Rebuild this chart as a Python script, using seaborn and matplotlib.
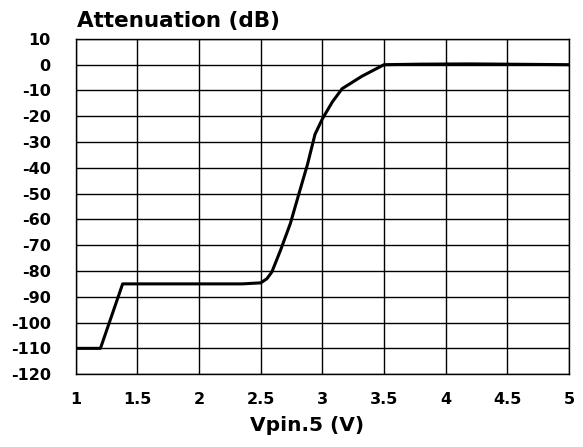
import matplotlib
matplotlib.use("Agg")
import matplotlib.pyplot as plt
import seaborn as sns
import pandas as pd

# Napiecie na pinie 5 i tlumienie
vpin = [1.0, 1.2, 1.38, 2.35, 2.5, 2.55, 2.59, 2.66, 2.74, 2.81, 2.88, 2.94,
        3.0, 3.08, 3.16, 3.32, 3.5, 3.8, 4.2, 5.0]
attenuation = [-110, -110, -85, -85, -84.6, -83, -80.4, -72, -61.6, -50, -38.5, -27,
               -21, -14.5, -9.3, -4.5, 0, 0.2, 0.3, 0]

x_ticks = [1, 1.5, 2, 2.5, 3, 3.5, 4, 4.5, 5]
x_tick_labels = ["1", "1.5", "2", "2.5", "3", "3.5", "4", "4.5", "5"]
y_ticks = list(range(-120, 11, 10))

sns.set_style("white")
plt.rcParams["font.family"] = ["DejaVu Sans"]
plt.rcParams["font.weight"] = "bold"
plt.rcParams["axes.unicode_minus"] = False
for key in ["text.color", "axes.labelcolor", "xtick.color", "ytick.color"]:
    plt.rcParams[key] = "black"

df = pd.DataFrame({"vpin": vpin, "att": attenuation})

fig = plt.figure(figsize=(5.83, 4.47), dpi=100)
ax = fig.add_axes([0.130, 0.163, 0.846, 0.750])

sns.lineplot(data=df, x="vpin", y="att", ax=ax, color="black", linewidth=2.2,
             sort=False)

ax.set_xlim(1, 5)
ax.set_ylim(-120, 10)
ax.set_xticks(x_ticks)
ax.set_xticklabels(x_tick_labels)
ax.set_yticks(y_ticks)
ax.grid(True, color="black", linewidth=1.0)
ax.set_axisbelow(True)
for s in ax.spines.values():
    s.set_color("black")
    s.set_linewidth(1.0)

ax.tick_params(axis="both", length=0, labelsize=11.5, colors="black")
ax.tick_params(axis="x", pad=13)
ax.tick_params(axis="y", pad=18)
for lab in ax.get_xticklabels() + ax.get_yticklabels():
    lab.set_fontweight("bold")

ax.set_xlabel("Vpin.5 (V)", fontsize=14.5, fontweight="bold", color="black")
ax.xaxis.set_label_coords(0.469, -0.125)
ax.set_ylabel("")
ax.text(0.002, 1.034, "Attenuation (dB)", transform=ax.transAxes,
        ha="left", va="baseline", fontsize=15.5, fontweight="bold", color="black")

fig.savefig("out.png", dpi=100)
